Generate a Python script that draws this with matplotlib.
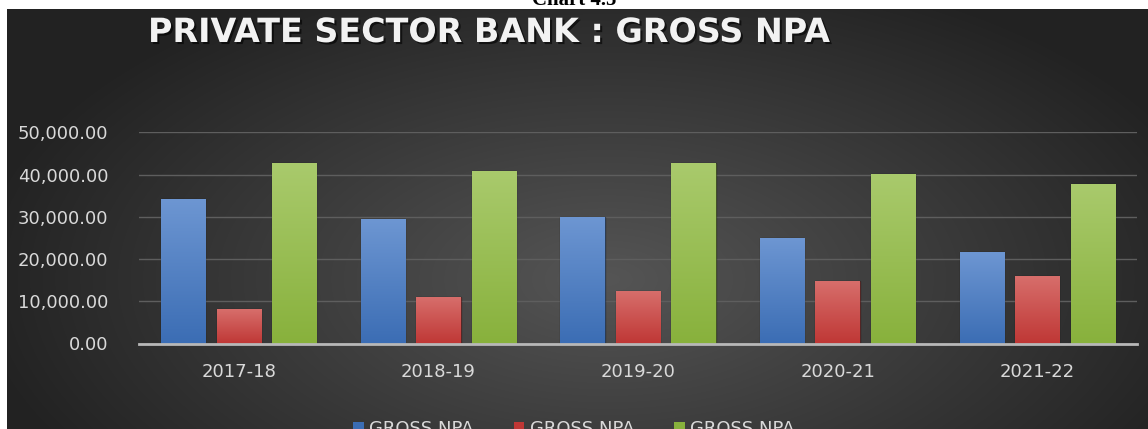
import matplotlib.pyplot as plt
import matplotlib.patheffects as pe
import numpy as np

years = ['2017-18', '2018-19', '2019-20', '2020-21', '2021-22']
npa_blue = [34100, 29400, 30000, 24900, 21600]
npa_red = [8200, 11100, 12500, 14800, 15900]
npa_green = [42800, 40900, 42700, 40200, 37700]
series_labels = ['GROSS NPA', 'GROSS NPA', 'GROSS NPA']

# top / bottom colours for each bar gradient
bar_colors = [('#6d96d2', '#3b6db4'), ('#d76e6b', '#bf3735'), ('#a9ca6c', '#88b13c')]
txt_color = '#d9d9d9'

fig = plt.figure(figsize=(11.48, 4.29), dpi=100)
fig.patch.set_facecolor('white')

# dark radial background panel
bg = fig.add_axes([7 / 1148, 0, 1 - 7 / 1148, 1 - 9 / 429])
bg.set_axis_off()
yy, xx = np.mgrid[0:420, 0:1141]
r = np.sqrt(((xx - 600) / 640.0) ** 2 + ((yy - 270) / 330.0) ** 2)
r = np.clip(r, 0, 1)
c_in = np.array([0x55, 0x55, 0x55]) / 255.0
c_out = np.array([0x22, 0x22, 0x22]) / 255.0
img = c_in[None, None, :] * (1 - r[..., None]) + c_out[None, None, :] * r[..., None]
bg.imshow(img, aspect='auto', extent=(0, 1, 0, 1), origin='upper')
bg.set_xlim(0, 1)
bg.set_ylim(0, 1)

ax = fig.add_axes([139 / 1148, 1 - 343.5 / 429, 998 / 1148, (343.5 - 132.3) / 429])
ax.patch.set_alpha(0)

x = np.arange(len(years))
off = 0.278
w = 0.222
all_series = [npa_blue, npa_red, npa_green]
for k, vals in enumerate(all_series):
    top_c, bot_c = bar_colors[k]
    bars = ax.bar(x + (k - 1) * off, vals, w, color=bot_c, edgecolor=(0, 0, 0, 0.35),
                  linewidth=1.0, zorder=3, label=series_labels[k])
    grad = np.linspace(0, 1, 100)[:, None]
    t = np.array(plt.matplotlib.colors.to_rgb(top_c))
    b = np.array(plt.matplotlib.colors.to_rgb(bot_c))
    cimg = t[None, None, :] * (1 - grad[..., None]) + b[None, None, :] * grad[..., None]
    for rect in bars:
        x0 = rect.get_x()
        h = rect.get_height()
        im = ax.imshow(cimg, aspect='auto', extent=(x0, x0 + w, 0, h),
                       origin='upper', zorder=3.5)
        im.set_clip_path(rect)

ax.set_xlim(-0.5, len(years) - 0.5)
ax.set_ylim(0, 50000)
ax.set_yticks(np.arange(0, 50001, 10000))
ax.set_yticklabels(['{:,.2f}'.format(v) for v in np.arange(0, 50001, 10000)])
ax.set_xticks(x)
ax.set_xticklabels(years)
ax.tick_params(axis='both', length=0, colors=txt_color, labelsize=13)
ax.tick_params(axis='y', pad=22)
ax.tick_params(axis='x', pad=14)
ax.grid(axis='y', color='#5e5e5e', linewidth=1, zorder=0)
for s in ['top', 'right', 'left']:
    ax.spines[s].set_visible(False)
ax.spines['bottom'].set_color('#b8b8b8')
ax.spines['bottom'].set_linewidth(2)
ax.spines['bottom'].set_zorder(4)

handles, labels = ax.get_legend_handles_labels()
leg = fig.legend(handles, labels, loc='center', bbox_to_anchor=(0.5, 0.0), ncol=3,
                 frameon=False, fontsize=13, labelcolor=txt_color,
                 handlelength=0.6, handleheight=0.6, handletextpad=0.3,
                 columnspacing=2.2)
for h in leg.legend_handles:
    h.set_edgecolor('none')

fig.text(148 / 1148, 1 - 42 / 429, 'PRIVATE SECTOR BANK : GROSS NPA', color='#f2f2f2',
         fontsize=24, fontweight='bold', family='DejaVu Sans',
         va='baseline', ha='left',
         path_effects=[pe.withSimplePatchShadow(offset=(1.5, -1.5), shadow_rgbFace='black', alpha=0.6)])

fig.text(0.5, 1 - 5 / 429, 'Chart 4.5', color='black', fontsize=15, fontweight='bold',
         family=['Liberation Serif', 'DejaVu Serif'], va='baseline', ha='center')

fig.savefig('out.png', dpi=100, facecolor=fig.get_facecolor())
